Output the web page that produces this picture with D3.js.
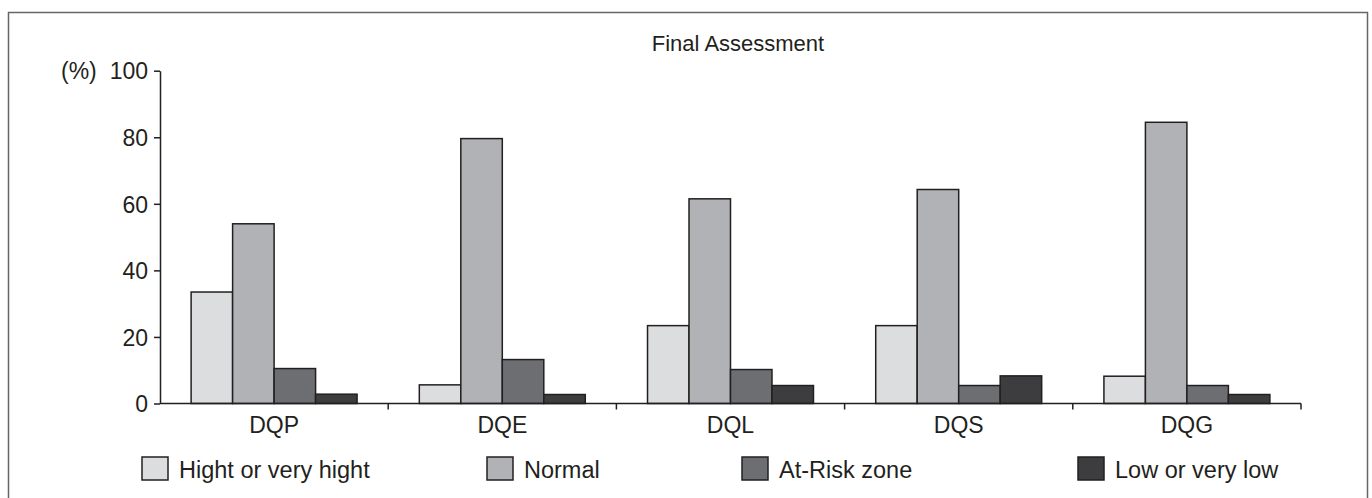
<!DOCTYPE html>
<html>
<head>
<meta charset="utf-8">
<script src="https://cdn.jsdelivr.net/npm/d3@7"></script>
<style>
  html, body { margin: 0; padding: 0; background: #fff; }
  svg { display: block; font-family: "Liberation Sans", Arial, sans-serif; }
</style>
</head>
<body>
<svg id="chart" width="1372" height="498"></svg>
<script>
// Domains and percentages per level
const categories = ["DQP", "DQE", "DQL", "DQS", "DQG"];
const seriesNames = ["Hight or very hight", "Normal", "At-Risk zone", "Low or very low"];
const hight  = [33.5, 5.6, 23.4, 23.4, 8.2];
const normal = [54.0, 79.6, 61.5, 64.3, 84.5];
const atRisk = [10.5, 13.2, 10.2, 5.4, 5.4];
const low    = [2.8, 2.7, 5.4, 8.3, 2.7];
const yTicks = [0, 20, 40, 60, 80, 100];

const seriesValues = [hight, normal, atRisk, low];
const fills = ["#dcdddf", "#b1b2b5", "#6d6e71", "#3d3d3f"];
const ink = "#231f20";

const svg = d3.select("#chart");

// outer frame
svg.append("path")
  .attr("d", "M8.5,498 V12.5 H1367.5 V498")
  .attr("fill", "none").attr("stroke", "#666").attr("stroke-width", 1.5);

const plot = { left: 160, right: 1301, top: 70.7, bottom: 403.5 };

const x0 = d3.scaleBand().domain(categories).range([plot.left, plot.right]).padding(0);
const x1 = d3.scaleBand().domain(seriesNames).range([0, x0.bandwidth()])
  .paddingInner(0).paddingOuter(0.75);
const y = d3.scaleLinear().domain([0, 100]).range([plot.bottom, plot.top]);

// title
svg.append("text")
  .attr("x", 738).attr("y", 51)
  .attr("text-anchor", "middle").attr("font-size", 22).attr("fill", ink)
  .text("Final Assessment");

// bars
const rows = categories.map((c, i) => ({
  cat: c,
  vals: seriesNames.map((s, j) => ({ s, v: seriesValues[j][i], j }))
}));

const groups = svg.append("g").selectAll("g").data(rows).join("g")
  .attr("transform", d => `translate(${x0(d.cat)},0)`);
groups.selectAll("rect").data(d => d.vals).join("rect")
  .attr("x", d => x1(d.s))
  .attr("width", x1.bandwidth())
  .attr("y", d => y(d.v))
  .attr("height", d => y(0) - y(d.v))
  .attr("fill", d => fills[d.j])
  .attr("stroke", ink).attr("stroke-width", 1.5);

// y axis
const yAxis = svg.append("g")
  .attr("transform", `translate(${plot.left},0)`)
  .call(d3.axisLeft(y).tickValues(yTicks).tickSize(6).tickPadding(6).tickSizeOuter(0));
yAxis.select(".domain").attr("stroke", ink).attr("stroke-width", 1.5);
yAxis.selectAll(".tick line").attr("stroke", ink).attr("stroke-width", 1.5);
yAxis.selectAll(".tick text").attr("font-size", 23).attr("fill", ink)
  .attr("font-family", "Liberation Sans, Arial, sans-serif").attr("dy", "0.36em");

// unit label
svg.append("text")
  .attr("x", 61).attr("y", y(100) + 8)
  .attr("font-size", 23).attr("fill", ink)
  .text("(%)");

// x axis: baseline, ticks at group boundaries, labels at centres
const xAxis = svg.append("g").attr("transform", `translate(0,${plot.bottom})`);
xAxis.append("line")
  .attr("x1", plot.left).attr("x2", plot.right)
  .attr("stroke", ink).attr("stroke-width", 1.5);
const bounds = categories.map(c => x0(c) + x0.bandwidth());
xAxis.selectAll("line.tk").data(bounds).join("line").attr("class", "tk")
  .attr("x1", d => d).attr("x2", d => d).attr("y1", 0).attr("y2", 6)
  .attr("stroke", ink).attr("stroke-width", 1.5);
xAxis.selectAll("text").data(categories).join("text")
  .attr("x", d => x0(d) + x0.bandwidth() / 2)
  .attr("y", 29)
  .attr("text-anchor", "middle").attr("font-size", 23).attr("fill", ink)
  .text(d => d);

// legend
const legendX = [142, 487, 742, 1078];
const legend = svg.append("g").selectAll("g").data(seriesNames).join("g")
  .attr("transform", (d, i) => `translate(${legendX[i]},457)`);
legend.append("rect")
  .attr("width", 26).attr("height", 23)
  .attr("fill", (d, i) => fills[i])
  .attr("stroke", ink).attr("stroke-width", 1.5);
legend.append("text")
  .attr("x", 37).attr("y", 21)
  .attr("font-size", 23.5).attr("fill", ink)
  .text(d => d);
</script>
</body>
</html>
